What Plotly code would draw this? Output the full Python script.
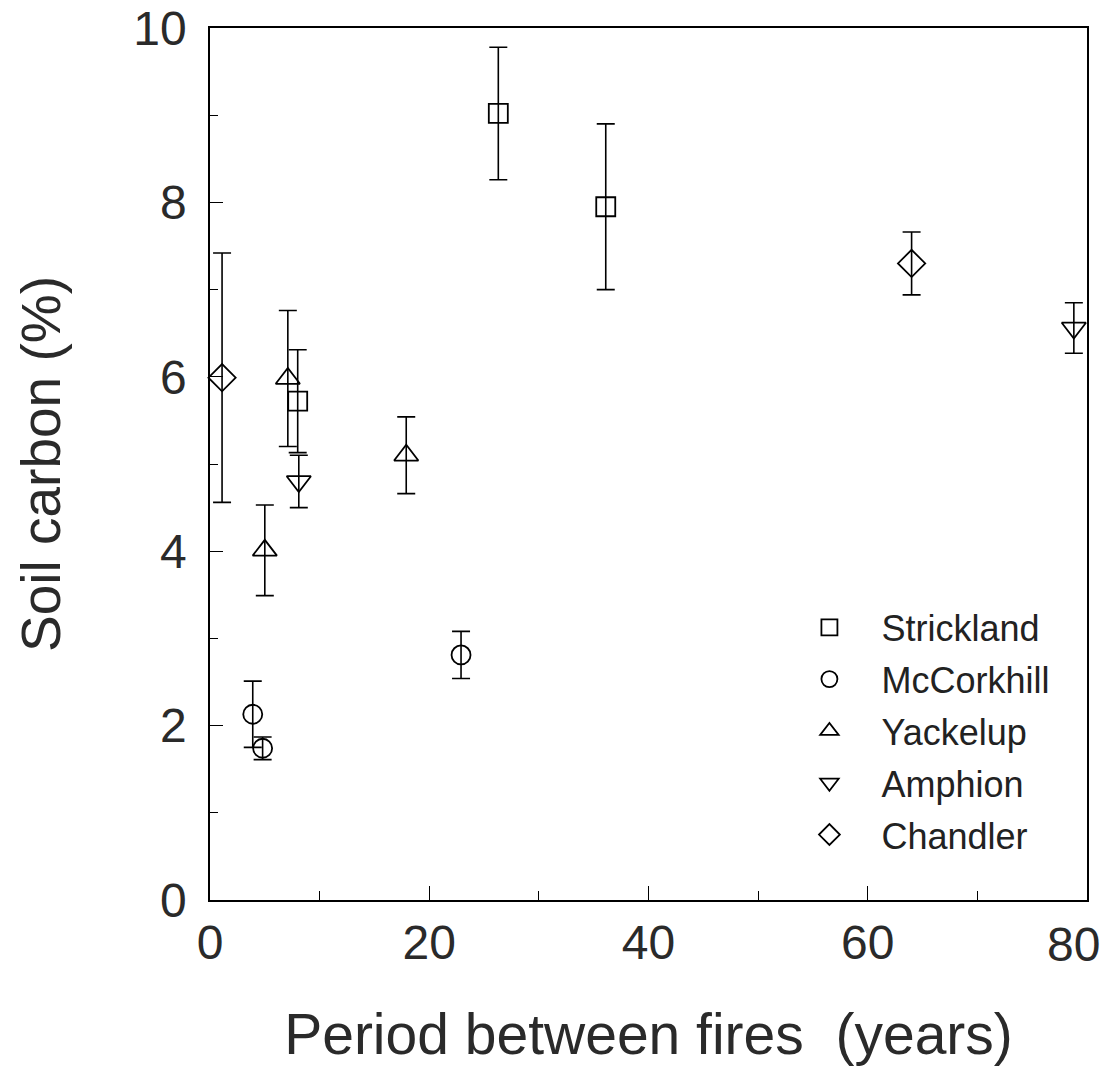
import plotly.graph_objects as go

# Data
strickland_x = [26.3, 36.1, 8.0]
strickland_y = [9.02, 7.95, 5.72]
strickland_err = [0.76, 0.95, 0.59]

mccorkhill_x = [3.9, 4.8, 22.9]
mccorkhill_y = [2.13, 1.74, 2.81]
mccorkhill_err = [0.38, 0.13, 0.27]

yackelup_x = [7.1, 17.9, 5.0]
yackelup_y = [5.98, 5.10, 4.01]
yackelup_err = [0.78, 0.44, 0.52]

amphion_x = [8.1, 78.8]
amphion_y = [4.80, 6.56]
amphion_err = [0.30, 0.29]

chandler_x = [1.1, 64.0]
chandler_y = [5.99, 7.30]
chandler_err = [1.43, 0.36]

x_ticks = [0, 20, 40, 60, 80]
x_minor = [10, 30, 50, 70]
y_ticks = [0, 2, 4, 6, 8, 10]
y_minor = [1, 3, 5, 7, 9]

series = [
    ("Strickland", strickland_x, strickland_y, strickland_err, "square-open", 19),
    ("McCorkhill", mccorkhill_x, mccorkhill_y, mccorkhill_err, "circle-open", 19),
    ("Yackelup", yackelup_x, yackelup_y, yackelup_err, "triangle-up-open", 21),
    ("Amphion", amphion_x, amphion_y, amphion_err, "triangle-down-open", 21),
    ("Chandler", chandler_x, chandler_y, chandler_err, "diamond-open", 21),
]

fig = go.Figure()
for name, xs, ys, es, sym, sz in series:
    fig.add_trace(go.Scatter(
        x=xs, y=ys, name=name, mode="markers", legendgroup=name,
        marker=dict(symbol=sym, size=sz, color="black", line=dict(width=1.8, color="black")),
        error_y=dict(type="data", array=es, visible=True, color="black", thickness=1.6, width=9),
        cliponaxis=False,
    ))

font_family = "Liberation Sans, Arial, sans-serif"
fig.update_layout(
    width=1110, height=1076,
    paper_bgcolor="white", plot_bgcolor="white",
    margin=dict(l=210, r=23, t=28, b=176),
    font=dict(family=font_family, color="#2a2a2a"),
    showlegend=True,
    legend=dict(
        x=0.647, y=0.347, xanchor="left", yanchor="top",
        font=dict(size=36, color="#222"),
        bgcolor="rgba(0,0,0,0)", tracegroupgap=2, itemsizing="trace", itemwidth=94,
    ),
)
fig.update_xaxes(
    range=[0, 80], tickvals=x_ticks, ticktext=[str(v) if v != 80 else "" for v in x_ticks],
    ticks="inside", ticklen=14, tickwidth=1.3,
    tickcolor="black", showline=True, linecolor="black", linewidth=1.5, mirror=True,
    showgrid=False, zeroline=False, automargin=False,
    tickfont=dict(size=48), ticklabelstandoff=0,
    minor=dict(tickvals=x_minor, ticks="inside", ticklen=9, tickwidth=1.2, tickcolor="black"),
    title=dict(text="Period between fires  (years)", font=dict(size=57), standoff=46),
)
fig.update_yaxes(
    range=[0, 10], tickvals=y_ticks, ticks="inside", ticklen=13, tickwidth=1.3,
    tickcolor="black", showline=True, linecolor="black", linewidth=1.5, mirror=True,
    showgrid=False, zeroline=False, automargin=False,
    tickfont=dict(size=48), ticklabelstandoff=12,
    minor=dict(tickvals=y_minor, ticks="inside", ticklen=8, tickwidth=1.2, tickcolor="black"),
    title=dict(text="Soil carbon (%)", font=dict(size=55), standoff=55),
)
# last x tick label, shifted left to stay inside the page as in the reference
fig.add_annotation(x=x_ticks[-1], y=0, xref="x", yref="paper", text=str(x_ticks[-1]),
                   showarrow=False, yanchor="top", xanchor="center", xshift=-14, yshift=-16,
                   font=dict(size=48, family=font_family, color="#2a2a2a"))
fig.write_html("out.html")
